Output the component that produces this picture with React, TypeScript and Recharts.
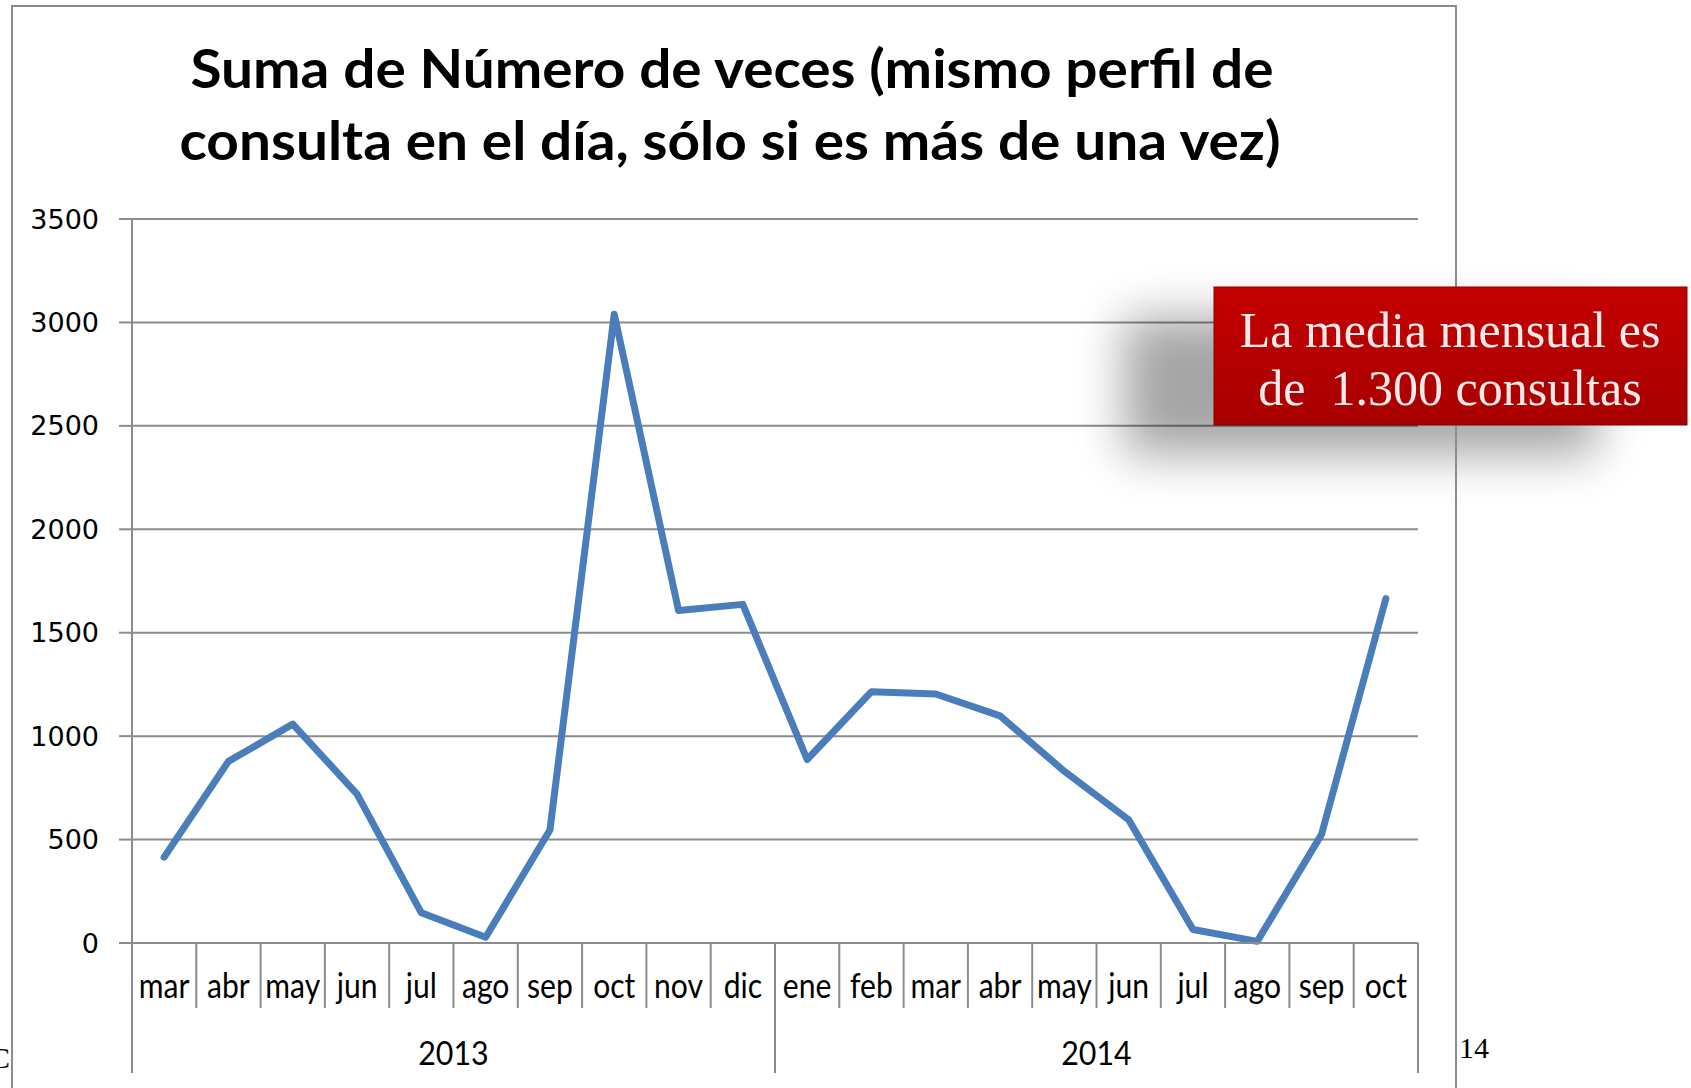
import { LineChart, Line, XAxis, YAxis, CartesianGrid } from "recharts";

const months = ["mar", "abr", "may", "jun", "jul", "ago", "sep", "oct", "nov", "dic", "ene", "feb", "mar", "abr", "may", "jun", "jul", "ago", "sep", "oct"];
const years = ["2013", "2013", "2013", "2013", "2013", "2013", "2013", "2013", "2013", "2013", "2014", "2014", "2014", "2014", "2014", "2014", "2014", "2014", "2014", "2014"];
const consultas = [415, 878, 1058, 720, 146, 28, 546, 3040, 1607, 1637, 887, 1215, 1204, 1098, 830, 596, 65, 8, 525, 1665];
const yTicks = [0, 500, 1000, 1500, 2000, 2500, 3000, 3500];

const titleLines = ["Suma de Número de veces (mismo perfil de", "consulta en el día, sólo si es más de una vez)"];
const noteLines = ["La media mensual es", "de  1.300 consultas"];

const W = 1691;
const H = 1088;
const PLOT_LEFT = 132;
const PLOT_RIGHT = 1418;
const PLOT_TOP = 219;
const PLOT_BOTTOM = 943;
const BAND = (PLOT_RIGHT - PLOT_LEFT) / months.length;
const GRID = "#8c8c8c";
const SANS = "Lato, 'Open Sans', sans-serif";

const data = consultas.map((v, i) => ({ id: i, month: months[i], year: years[i], value: v }));

// month label + separators, and the year row under it
function MonthTick(props: any) {
  const { x, index } = props;
  const y0 = PLOT_BOTTOM;
  const left = x - BAND / 2;
  const newYear = index === 0 || years[index] !== years[index - 1];
  const last = index === months.length - 1;
  let yearLabel = null;
  if (newYear) {
    let n = 0;
    while (index + n < years.length && years[index + n] === years[index]) n++;
    const cx = left + (n * BAND) / 2;
    yearLabel = (
      <g transform={`translate(${cx},${y0 + 122}) scale(0.95,1)`}>
        <text textAnchor="middle" fontFamily={SANS} fontSize={32} fill="#000">
          {years[index]}
        </text>
      </g>
    );
  }
  return (
    <g>
      <line x1={left} x2={left} y1={y0} y2={y0 + (newYear ? 130 : 65)} stroke={GRID} strokeWidth={2} />
      {last && <line x1={x + BAND / 2} x2={x + BAND / 2} y1={y0} y2={y0 + 130} stroke={GRID} strokeWidth={2} />}
      <g transform={`translate(${x},${y0 + 55}) scale(0.86,1)`}>
        <text textAnchor="middle" fontFamily={SANS} fontSize={35} fill="#000">
          {months[index]}
        </text>
      </g>
      {yearLabel}
    </g>
  );
}

export default function App() {
  return (
    <div style={{ position: "absolute", left: 0, top: 0, width: W, height: H, background: "#fff", overflow: "hidden" }}>
      <LineChart
        width={W}
        height={H}
        data={data}
        margin={{ top: PLOT_TOP, right: W - PLOT_RIGHT, bottom: 15, left: 0 }}
      >
        <CartesianGrid vertical={false} stroke={GRID} strokeWidth={2} />
        <XAxis
          dataKey="id"
          scale="band"
          height={130}
          interval={0}
          tickSize={0}
          tickMargin={0}
          tickLine={false}
          axisLine={{ stroke: GRID, strokeWidth: 2 }}
          tick={<MonthTick />}
        />
        <YAxis
          width={PLOT_LEFT}
          domain={[0, 3500]}
          ticks={yTicks}
          interval={0}
          tickSize={13}
          tickMargin={20}
          axisLine={{ stroke: GRID, strokeWidth: 2 }}
          tickLine={{ stroke: GRID, strokeWidth: 2 }}
          tick={{ fontFamily: "'DejaVu Sans', sans-serif", fontSize: 27, fill: "#000" }}
        />
        <Line
          type="linear"
          dataKey="value"
          stroke="#4a7ebb"
          strokeWidth={7}
          strokeLinejoin="round"
          strokeLinecap="round"
          dot={false}
          activeDot={false}
          isAnimationActive={false}
        />
      </LineChart>

      <svg width={W} height={H} style={{ position: "absolute", left: 0, top: 0, pointerEvents: "none" }}>
        <defs>
          <linearGradient id="redFill" x1="0" y1="0" x2="0" y2="1">
            <stop offset="0" stopColor="#c40000" />
            <stop offset="1" stopColor="#a80000" />
          </linearGradient>
          <filter id="blurShadow" x="-40%" y="-60%" width="180%" height="220%">
            <feGaussianBlur stdDeviation={24} />
          </filter>
          <clipPath id="leftClip">
            <rect x={0} y={0} width={11} height={H} />
          </clipPath>
        </defs>

        {/* soft shadow of the note box, then the frame, then the box itself */}
        <rect x={1124} y={317} width={473} height={138} fill="#000" opacity={0.35} filter="url(#blurShadow)" />

        {/* outer frame of the chart object */}
        <path d={`M12 ${H} L12 6 L1456 6 L1456 ${H}`} fill="none" stroke={GRID} strokeWidth={2} />

        {titleLines.map((t, i) => (
          <text
            key={i}
            x={i === 0 ? 732 : 730}
            y={88 + i * 72}
            textAnchor="middle"
            fontFamily={SANS}
            fontWeight={700}
            fontSize={54}
            textLength={i === 0 ? 1083 : 1101}
            lengthAdjust="spacingAndGlyphs"
            fill="#000"
          >
            {t}
          </text>
        ))}

        <rect x={1214} y={287} width={473} height={138} fill="url(#redFill)" stroke="#8a0000" strokeWidth={1} />
        {noteLines.map((t, i) => (
          <text
            key={i}
            x={1450}
            y={347 + i * 58}
            textAnchor="middle"
            fontFamily="'Liberation Serif', 'DejaVu Serif', serif"
            fontSize={50}
            fill="#fbeaea"
            style={{ whiteSpace: "pre" }}
          >
            {t}
          </text>
        ))}

        <text x={1459} y={1058} fontFamily="'Liberation Serif', serif" fontSize={30} fill="#000">14</text>
        <text x={-10} y={1068} fontFamily="'Liberation Serif', serif" fontSize={30} fill="#000" clipPath="url(#leftClip)">Co</text>
      </svg>
    </div>
  );
}
